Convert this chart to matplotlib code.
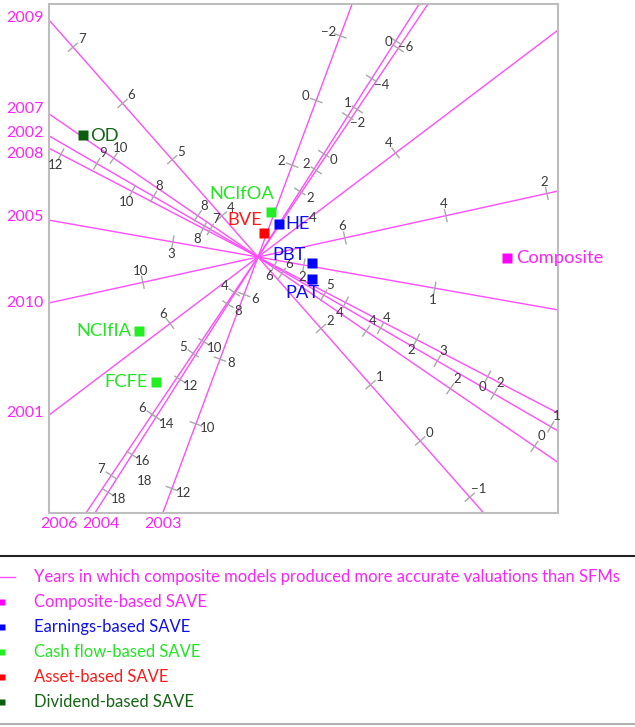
import numpy as np
import matplotlib.pyplot as plt
from matplotlib.lines import Line2D

plt.rcParams['font.family'] = ['Lato', 'DejaVu Sans']

# year axes of the biplot: direction of the labelled end (deg), value at origin, length of one unit
years = ['2009', '2007', '2002', '2008', '2005', '2010', '2001', '2006', '2004', '2003']
year_angle = [131.4, 145.6, 149.9, 152.5, 170.0, 192.4, 217.1, 236.1, 237.5, 249.6]
year_mid = [3.27, 6.57, 6.16, 6.46, 2.35, 7.72, 5.22, 3.42, 5.49, 4.84]
year_unit = [0.75, 0.51, 0.656, 0.401, 1.33, 0.517, 1.414, 0.735, 0.223, 0.345]
year_ticks = [
    [7, 6, 5, 4, 2, 1, 0, -1],
    [10, 8, 6, 4, 2, 0],
    [9, 8, 7, 5, 4, 3, 2, 1],
    [12, 10, 8, 6, 4, 2, 0],
    [3, 2, 1],
    [10, 6, 4, 2],
    [6, 4],
    [7, 6, 5, 4, 2, 1, 0],
    [18, 16, 14, 12, 10, 8, 2, 0, -2, -4, -6],
    [12, 10, 8, 6, 2, 0, -2],
]
# labels that sit on their own in the picture
loose_text = ['18', '4']
loose_x = [-1.13, 0.55]
loose_y = [-2.24, 0.39]

# SAVE models
models = ['Composite', 'HE', 'PBT', 'PAT', 'BVE', 'NCIfOA', 'NCIfIA', 'FCFE', 'OD']
model_x = [2.49, 0.21, 0.537, 0.537, 0.063, 0.127, -1.187, -1.02, -1.753]
model_y = [-0.01, 0.33, -0.057, -0.223, 0.243, 0.447, -0.737, -1.247, 1.22]
model_group = ['comp', 'earn', 'earn', 'earn', 'asset', 'cash', 'cash', 'cash', 'div']

legend_text = ['Years in which composite models produced more accurate valuations than SFMs',
               'Composite-based SAVE', 'Earnings-based SAVE', 'Cash flow-based SAVE',
               'Asset-based SAVE', 'Dividend-based SAVE']

# styles
line_color = '#ff4dff'
mark_color = {'comp': '#ff00ff', 'earn': '#0000ff', 'cash': '#22ee22', 'asset': '#ff0000', 'div': '#0b5e0b'}
text_color = {'comp': '#ff22ff', 'earn': '#1010ee', 'cash': '#22e622', 'asset': '#ff1a1a', 'div': '#146614'}
legend_groups = ['line', 'comp', 'earn', 'cash', 'asset', 'div']
side_hi = [-1, -1, -1, 1, 1, -1, -1, -1, 1, 1]
side_lo = [-1, -1, -1, 1, 1, -1, -1, -1, 1, -1]
year_off = [(-5, 2), (-5, 5), (-5, 3), (-5, -6), (-5, 3), (-5, 0), (-5, 2), (-27, -11), (6, -11), (0, -11)]
model_off = [(9, 0, 'left'), (6, 0, 'left'), (-6, 8, 'right'), (-9, -14, 'center'), (-2, 13, 'right'),
             (4, 18, 'right'), (-8, 0, 'right'), (-8, 0, 'right'), (7, -1, 'left')]

W, H = 635, 727
fig = plt.figure(figsize=(W / 100, H / 100), dpi=100)
ax = fig.add_axes([49 / W, 1 - 513 / H, 509 / W, 509 / H])
ax.set_xlim(-2.09, 3.00)
ax.set_ylim(-2.56, 2.53)
ax.set_xticks([])
ax.set_yticks([])
for s in ax.spines.values():
    s.set_color('#bdbdbd')
    s.set_linewidth(1.5)

xmin, xmax = ax.get_xlim()
ymin, ymax = ax.get_ylim()
for i, yr in enumerate(years):
    a = np.radians(year_angle[i])
    d = np.array([np.cos(a), np.sin(a)])
    n = np.array([-d[1], d[0]])
    ax.plot([-8 * d[0], 8 * d[0]], [-8 * d[1], 8 * d[1]], color=line_color, lw=1, zorder=2)
    for v in year_ticks[i]:
        p = d * (v - year_mid[i]) * year_unit[i]
        ax.plot([p[0] - 0.06 * n[0], p[0] + 0.06 * n[0]], [p[1] - 0.06 * n[1], p[1] + 0.06 * n[1]],
                color='#a8a8a8', lw=1, zorder=3)
        side = side_hi[i] if v > year_mid[i] else side_lo[i]
        q = p + side * 0.12 * n
        ax.text(q[0], q[1], str(v).replace('-', '\u2212'), ha='center', va='center',
                fontsize=9.5, color='#3a3a3a', zorder=4)
    # where the labelled end leaves the box
    tx = xmin / d[0] if d[0] < 0 else xmax / d[0]
    ty = ymin / d[1] if d[1] < 0 else ymax / d[1]
    t = min(tx, ty)
    ha = 'right' if tx < ty else 'center'
    ax.annotate(yr, xy=(t * d[0], t * d[1]), xytext=year_off[i], textcoords='offset pixels',
                ha=ha, va='center', fontsize=11.5, color='#ff22ff', annotation_clip=False)

for t, x, y in zip(loose_text, loose_x, loose_y):
    ax.text(x, y, t, ha='center', va='center', fontsize=9.5, color='#3a3a3a')

for i, m in enumerate(models):
    g = model_group[i]
    ax.plot(model_x[i], model_y[i], 's', ms=7, color=mark_color[g], mec='none', zorder=5)
    ox, oy, ha = model_off[i]
    ax.annotate(m, xy=(model_x[i], model_y[i]), xytext=(ox, oy), textcoords='offset pixels',
                ha=ha, va='center', fontsize=13.2, color=text_color[g], zorder=6)

# legend below the plot
fig.add_artist(Line2D([0, 1], [1 - 556 / H] * 2, color='#222222', lw=1.5))
fig.add_artist(Line2D([0, 1], [1 - 724 / H] * 2, color='#b0b0b0', lw=1.5))
for k, lab in enumerate(legend_text):
    yy = 1 - (577 + 25 * k) / H
    g = legend_groups[k]
    if g == 'line':
        fig.add_artist(Line2D([0, 15 / W], [yy, yy], color=line_color, lw=1))
        col = '#ff22ff'
    else:
        fig.add_artist(Line2D([2 / W], [yy], marker='s', ms=4, color=mark_color[g], mec='none'))
        col = text_color[g]
    fig.text(34 / W, yy, lab, ha='left', va='center', fontsize=12.0, color=col)

fig.savefig('out.png', dpi=100)
